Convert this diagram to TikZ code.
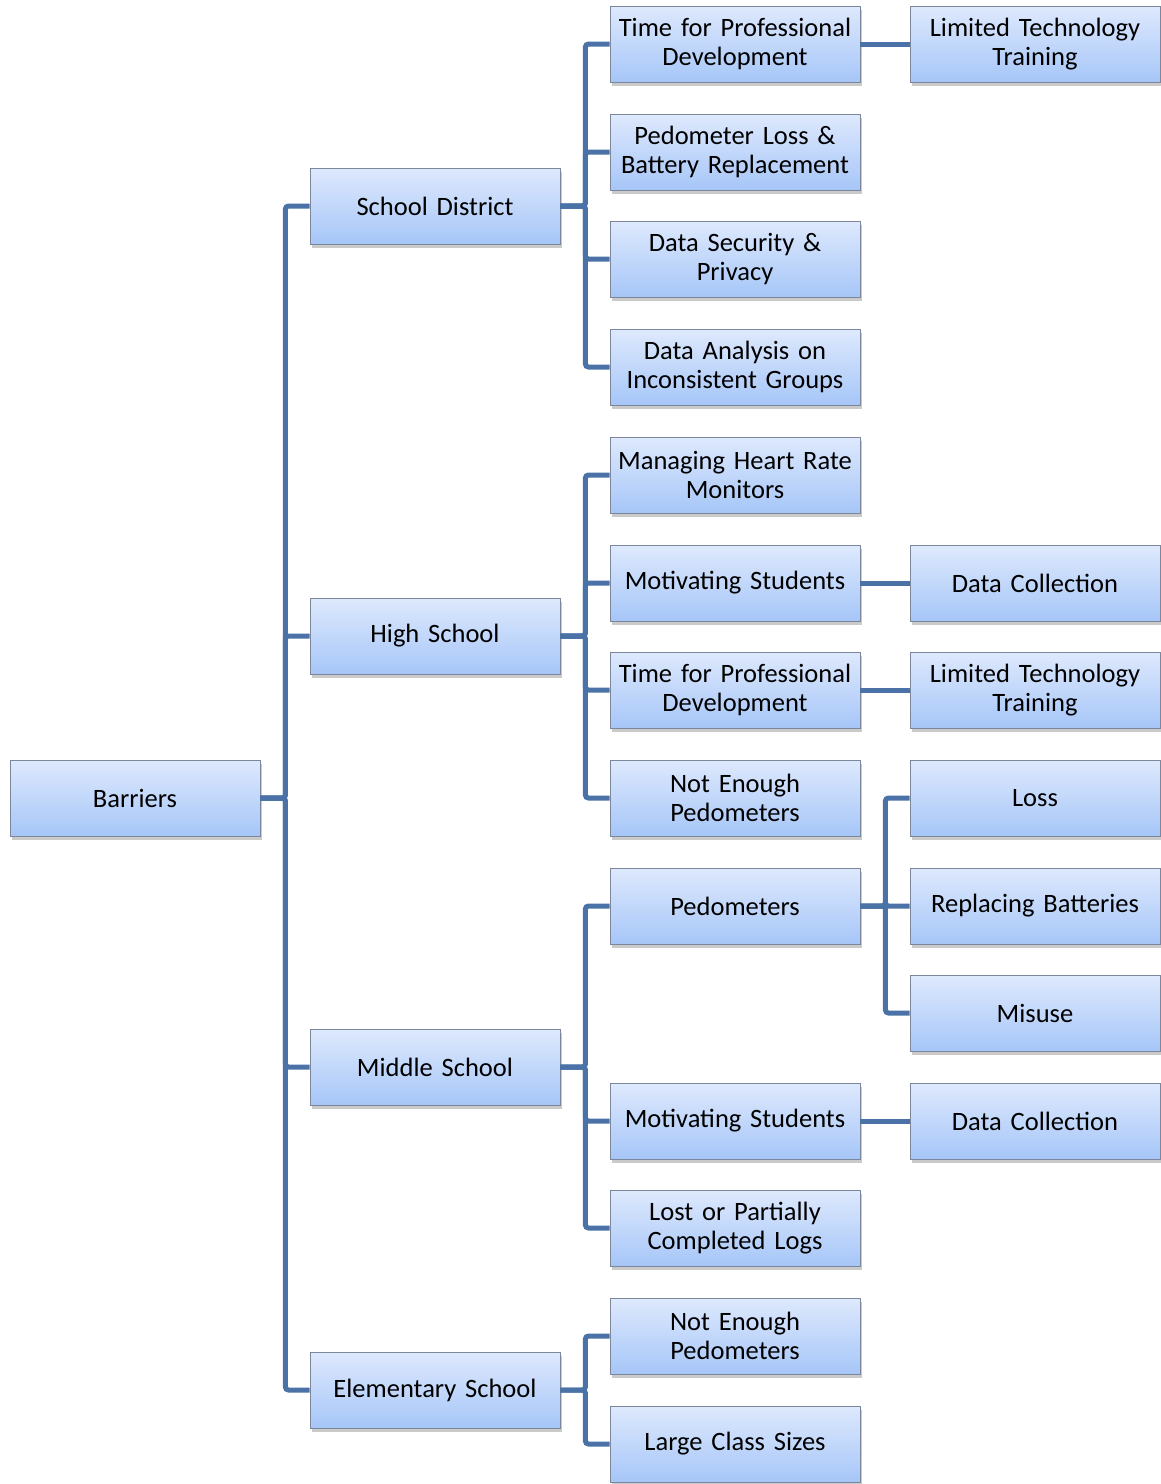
\documentclass[tikz,border=0pt]{standalone}
\usepackage{fontspec}
\setmainfont{Carlito}
\usetikzlibrary{shadows}
\definecolor{boxtop}{RGB}{222,233,253}
\definecolor{boxbot}{RGB}{166,198,248}
\definecolor{boxline}{RGB}{125,135,155}
\definecolor{conn}{RGB}{74,114,166}
\tikzset{
  box/.style={rectangle, draw=boxline, line width=0.8pt,
    top color=boxtop, bottom color=boxbot,
    minimum width=250pt, minimum height=76pt, inner sep=0pt,
    text width=248pt, align=center,
    font=\fontsize{26.5}{29.5}\selectfont,
    drop shadow={shadow xshift=2pt, shadow yshift=-4pt, opacity=0.35, fill=black!60}},
  link/.style={draw=conn, line width=5pt, rounded corners=3pt},
}
\begin{document}
\begin{tikzpicture}[x=1pt, y=-1pt]
\useasboundingbox (0,0) rectangle (1161,1484);
% level 0
\node[box] (bar) at (135,798) {Barriers};
% level 1
\node[box] (sd) at (435,206) {School District};
\node[box] (hs) at (435,636) {High School};
\node[box] (ms) at (435,1067) {Middle School};
\node[box] (es) at (435,1390) {Elementary School};
% level 2
\node[box] (sd1) at (735,44) {Time for Professional\\Development};
\node[box] (sd2) at (735,152) {Pedometer Loss \&\\Battery Replacement};
\node[box] (sd3) at (735,259) {Data Security \&\\Privacy};
\node[box] (sd4) at (735,367) {Data Analysis on\\Inconsistent Groups};
\node[box] (hs1) at (735,475) {Managing Heart Rate\\Monitors};
\node[box] (hs2) at (735,583) {Motivating Students};
\node[box] (hs3) at (735,690) {Time for Professional\\Development};
\node[box] (hs4) at (735,798) {Not Enough\\Pedometers};
\node[box] (ms1) at (735,906) {Pedometers};
\node[box] (ms2) at (735,1121) {Motivating Students};
\node[box] (ms3) at (735,1228) {Lost or Partially\\Completed Logs};
\node[box] (es1) at (735,1336) {Not Enough\\Pedometers};
\node[box] (es2) at (735,1444) {Large Class Sizes};
% level 3
\node[box] (sd1a) at (1035,44) {Limited Technology\\Training};
\node[box] (hs2a) at (1035,583) {Data Collection};
\node[box] (hs3a) at (1035,690) {Limited Technology\\Training};
\node[box] (ms1a) at (1035,798) {Loss};
\node[box] (ms1b) at (1035,906) {Replacing Batteries};
\node[box] (ms1c) at (1035,1013) {Misuse};
\node[box] (ms2a) at (1035,1121) {Data Collection};
% connectors: elbow links from each parent to its children
\foreach \c in {sd,hs,ms,es}
  \draw[link] (bar.east) -- ++(25,0) |- (\c.west);
\foreach \c in {sd1,sd2,sd3,sd4}
  \draw[link] (sd.east) -- ++(25,0) |- (\c.west);
\foreach \c in {hs1,hs2,hs3,hs4}
  \draw[link] (hs.east) -- ++(25,0) |- (\c.west);
\foreach \c in {ms1,ms2,ms3}
  \draw[link] (ms.east) -- ++(25,0) |- (\c.west);
\foreach \c in {es1,es2}
  \draw[link] (es.east) -- ++(25,0) |- (\c.west);
\foreach \c in {ms1a,ms1b,ms1c}
  \draw[link] (ms1.east) -- ++(25,0) |- (\c.west);
% straight links to single children
\draw[link] (sd1.east) -- (sd1a.west);
\draw[link] (hs2.east) -- (hs2a.west);
\draw[link] (hs3.east) -- (hs3a.west);
\draw[link] (ms2.east) -- (ms2a.west);
\end{tikzpicture}
\end{document}
